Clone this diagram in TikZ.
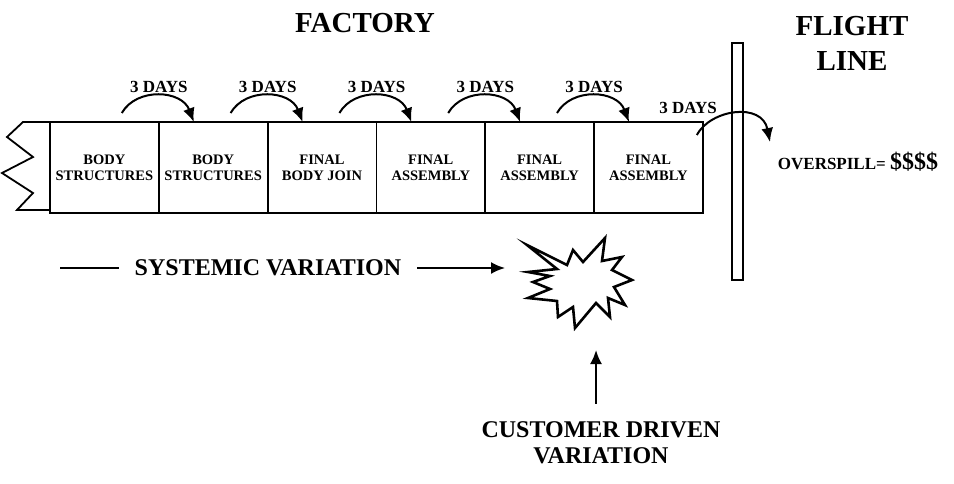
\documentclass[tikz,border=0pt]{standalone}
\usepackage{fontspec}
\setmainfont{Liberation Serif}
\usetikzlibrary{positioning,arrows.meta}
\tikzset{
	>={Latex[length=14pt,width=12pt]},
}

\begin{document}
\begin{tikzpicture}[x=1pt,y=-1pt,line width=1.8pt,
		station/.style={rectangle, draw, minimum width=108.8pt, minimum height=91pt, inner sep=0pt, outer sep=0pt, align=center, font=\bfseries\fontsize{14.5}{16}\selectfont},
		title/.style={font=\bfseries\fontsize{29}{35}\selectfont, align=center},
		days/.style={font=\bfseries\fontsize{17}{20}\selectfont, inner sep=2pt},
		caption/.style={font=\bfseries\fontsize{24}{26}\selectfont, align=center},
		hop/.style={->, line width=2pt},
	]
		\useasboundingbox (0,0) rectangle (954,483);
		% headings
		\node[title] (factory) at (365,23) {FACTORY};
		\node[title] (flight) at (852,43) {FLIGHT\\LINE};
		% production line
		\node[station] (body1) at (104.4,167.5) {BODY\\STRUCTURES};
		\node[station,right=0pt of body1] (body2) {BODY\\STRUCTURES};
		\node[station,right=0pt of body2] (join) {FINAL\\BODY JOIN};
		\node[station,right=0pt of join] (asm1) {FINAL\\ASSEMBLY};
		\node[station,right=0pt of asm1] (asm2) {FINAL\\ASSEMBLY};
		\node[station,right=0pt of asm2] (asm3) {FINAL\\ASSEMBLY};
		\draw (body1.north west) -- ++(-27,0) -- ++(-16,15) -- ++(26,20) -- ++(-31,16)
			-- ++(31,20) -- ++(-16,17) -- ++(33,0);
		\foreach \a/\b in {body1/body2,body2/join,join/asm1,asm1/asm2,asm2/asm3}
			\draw[hop] ([shift={(-37,-9)}]\a.north east) .. controls +(15,-26) and +(-12,-32) .. ([xshift=35]\b.north west)
				node[days,above,pos=0.5]{3 DAYS};
		% flight line
		\node[draw, minimum width=11pt, minimum height=237pt, inner sep=0pt, line width=1.4pt] (pole) at (737.5,161.5) {};
		\coordinate (spill) at (770,142);
		\draw[hop] ([shift={(-6,13)}]asm3.north east) .. controls +(14,-26) and +(-8,-40) .. (spill)
			node[days,above left,pos=0.33]{3 DAYS};
		\node[font=\bfseries\fontsize{17}{18}\selectfont] (over) at (858,162) {OVERSPILL= {\fontsize{24}{24}\selectfont\$\$\$\$}};
		% variation
		\coordinate (burst) at (578,283);
		\draw[line width=2.6pt, line join=miter, shift={(burst)}] (-51,-38) -- (-11,-18) -- (-5,-33) -- (5,-21) -- (27,-45) -- (24,-22)
			-- (44,-26) -- (34,-13) -- (54,-3) -- (36,4) -- (47,22) -- (30,15) -- (32,34) -- (18,20)
			-- (-3,45) -- (-5,24) -- (-20,34) -- (-21,18) -- (-50,15) -- (-28,6) -- (-45,-1) -- (-28,-7)
			-- (-50,-11) -- (-21,-14) -- cycle;
		\coordinate (burstW) at (505,268);
		\coordinate (burstS) at (596,350);
		\coordinate (sysL) at (60,268);
		\node[caption, inner xsep=15pt] (sys) at (268,268) {SYSTEMIC VARIATION};
		\draw (sysL) -- (sys.west);
		\draw[hop] (sys.east) -- (burstW);
		\node[caption] (cust) at (601,443) {CUSTOMER DRIVEN\\VARIATION};
		\draw[hop] (cust.north -| burstS) ++(0,-14) -- (burstS);
	\end{tikzpicture}
\end{document}
